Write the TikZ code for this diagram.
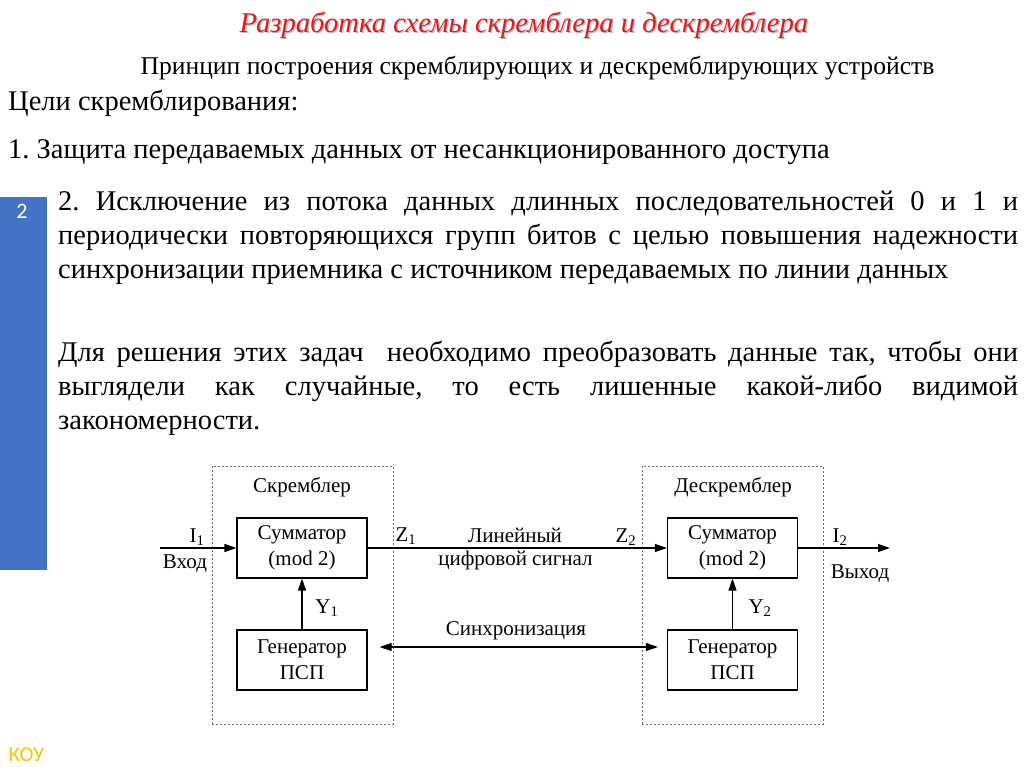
\documentclass[tikz,border=0pt]{standalone}
\usepackage{fontspec}
\setmainfont{Liberation Serif}
\newfontfamily\slidesans{Carlito}
\usetikzlibrary{arrows.meta,positioning}
\definecolor{slidered}{RGB}{218,28,36}
\definecolor{slideblue}{RGB}{68,114,196}
\definecolor{slideyellow}{RGB}{255,192,0}
\definecolor{framegray}{RGB}{110,110,110}
\frenchspacing

\begin{document}
\begin{tikzpicture}[x=1pt, y=-1pt,
    blk/.style={rectangle, draw, line width=1.1pt, minimum width=130pt,
                minimum height=60pt, inner sep=0pt, align=center,
                font=\fontsize{21}{26}\selectfont},
    unitbox/.style={rectangle, draw=framegray, dash pattern=on 2pt off 2pt,
                    line width=0.7pt, minimum width=181pt, minimum height=258pt},
    lbl/.style={inner sep=1pt, font=\fontsize{21}{24}\selectfont},
    sig/.style={line width=1.1pt, -{Triangle[length=12pt,width=8pt]}},
    body/.style={inner sep=0pt, font=\fontsize{28.5}{34}\selectfont}
  ]
    % Page
    \fill[white] (0,0) rectangle (1024,767);
    \useasboundingbox (0,0) rectangle (1024,767);

    % Header
    \node[font=\fontsize{28.6}{32}\selectfont\itshape, text=black!25] at (525.5,26.5) {Разработка схемы скремблера и дескремблера};
    \node[font=\fontsize{28.6}{32}\selectfont\itshape, text=slidered] (title) at (524,25) {Разработка схемы скремблера и дескремблера};
    \node[font=\fontsize{25.6}{30}\selectfont] (subtitle) at (537.5,68) {Принцип построения скремблирующих и дескремблирующих устройств};
    \node[body, anchor=base west] (goals) at (8,111) {Цели скремблирования:};
    \node[body, anchor=base west] (goal1) at (8,159) {1. Защита передаваемых данных от несанкционированного доступа};

    % Side bar
    \fill[slideblue] (0,197) rectangle (47,570);
    \node[text=white, font=\slidesans\fontsize{22}{26}\selectfont] (num) at (22,211) {2};
    \node[text=slideyellow, font=\slidesans\fontsize{21}{24}\selectfont] (kou) at (26.5,755) {КОУ};

    % Body text
    \node[body, anchor=north west, text width=960pt, align=justify] (goal2) at (58,191)
      {2. Исключение из потока данных длинных последовательностей 0 и 1 и\linebreak
       периодически повторяющихся групп битов с целью повышения надежности\linebreak
       синхронизации приемника с источником передаваемых по линии данных};
    \node[body, anchor=north west, text width=960pt, align=justify] (task) at (58,341)
      {Для решения этих задач\ \ необходимо преобразовать данные так, чтобы они\linebreak
       выглядели как случайные, то есть лишенные какой-либо видимой\linebreak
       закономерности.};

    % Scrambler
    \node[unitbox] (scr) at (302.5,595) {};
    \node[lbl] (scrname) at (302,487.5) {Скремблер};
    \node[blk] (sum1) at (302,548) {Сумматор\\(mod 2)};
    \node[blk] (gen1) at (302,660) {Генератор\\ПСП};

    % Descrambler
    \node[unitbox] (dscr) at (732.5,595) {};
    \node[lbl] (dscrname) at (733,487.5) {Дескремблер};
    \node[blk] (sum2) at (732.5,548) {Сумматор\\(mod 2)};
    \node[blk] (gen2) at (732.5,660) {Генератор\\ПСП};

    % Signals
    \coordinate (in) at (160,548);
    \coordinate (out) at (890,548);
    \draw[sig] (in) -- (sum1);
    \draw[sig] (sum1) -- (sum2);
    \draw[sig] (sum2) -- (out);
    \draw[sig] (gen1) -- (sum1);
    \draw[sig] (gen2) -- (sum2);
    \draw[line width=1.1pt, {Triangle[length=12pt,width=8pt]}-{Triangle[length=12pt,width=8pt]},
          shorten <=12pt, shorten >=9pt] ([yshift=13pt]gen1.east) -- ([yshift=13pt]gen2.west);

    % Labels
    \node[lbl] (i1) at (197,537) {I\textsubscript{1}};
    \node[lbl] (inlbl) at (185,564) {Вход};
    \node[lbl] (z1) at (406,536) {Z\textsubscript{1}};
    \node[lbl] (line1) at (515,535) {Линейный};
    \node[lbl] (line2) at (515.5,560) {цифровой сигнал};
    \node[lbl] (z2) at (626,537) {Z\textsubscript{2}};
    \node[lbl] (i2) at (840,537) {I\textsubscript{2}};
    \node[lbl] (outlbl) at (860,574) {Выход};
    \node[lbl] (y1) at (327,608) {Y\textsubscript{1}};
    \node[lbl] (y2) at (760,608) {Y\textsubscript{2}};
    \node[lbl] (sync) at (516,631) {Синхронизация};
  \end{tikzpicture}
\end{document}
